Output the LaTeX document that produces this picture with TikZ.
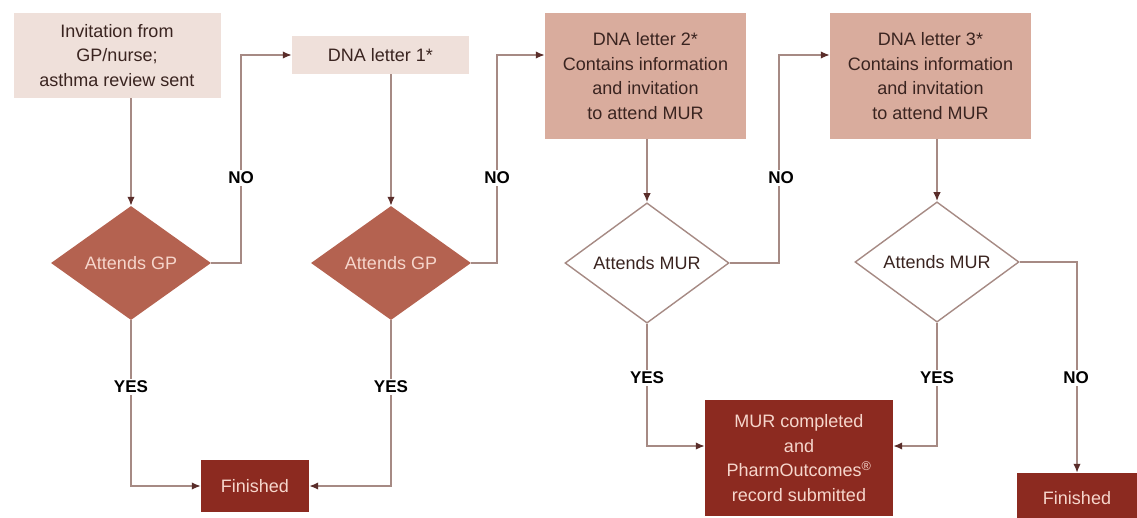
\documentclass[tikz,border=0pt]{standalone}
\usepackage{fontspec}
\setmainfont{Liberation Sans}
\usetikzlibrary{arrows.meta,shapes.geometric}
\definecolor{PaleRose}{RGB}{239,224,218}
\definecolor{MidRose}{RGB}{217,172,157}
\definecolor{Terracotta}{RGB}{180,98,80}
\definecolor{DeepRed}{RGB}{140,42,32}
\definecolor{LinkGrey}{RGB}{166,138,132}
\definecolor{TipBrown}{RGB}{90,45,42}
\definecolor{InkBrown}{RGB}{58,36,32}
\definecolor{PaleText}{RGB}{246,214,204}

\begin{document}
\begin{tikzpicture}[x=1pt,y=-1pt,
  font=\fontsize{18}{24.5}\selectfont,
  box/.style={rectangle,align=center,inner sep=0pt,text=InkBrown},
  gpcheck/.style={diamond,fill=Terracotta,text=PaleText,inner sep=0pt,minimum width=160pt,minimum height=114pt},
  murcheck/.style={diamond,draw=LinkGrey,line width=1.4pt,fill=white,text=InkBrown,inner sep=0pt,minimum width=164pt,minimum height=115pt},
  endbox/.style={rectangle,fill=DeepRed,text=PaleText,align=center,inner sep=0pt},
  flow/.style={draw=LinkGrey,line width=1.6pt,-{Latex[length=9pt,width=7.5pt,color=TipBrown]}},
  tag/.style={fill=white,font=\fontsize{17}{20}\selectfont\bfseries,inner sep=2pt}]
  \useasboundingbox (0,0) rectangle (1137,517);
  \node[box,fill=PaleRose,minimum width=207pt,minimum height=85pt] (invite) at (117,55.5)
    {Invitation from\\GP/nurse;\\asthma review sent};
  \node[box,fill=PaleRose,minimum width=177pt,minimum height=38pt] (dna1) at (380.5,55) {DNA letter 1*};
  \node[box,fill=MidRose,minimum width=201pt,minimum height=126pt] (dna2) at (645.5,76)
    {DNA letter 2*\\Contains information\\and invitation\\to attend MUR};
  \node[box,fill=MidRose,minimum width=201pt,minimum height=126pt] (dna3) at (930.5,76)
    {DNA letter 3*\\Contains information\\and invitation\\to attend MUR};
  \node[gpcheck] (gp1) at (131,263) {Attends GP};
  \node[gpcheck] (gp2) at (391,263) {Attends GP};
  \node[murcheck] (mur1) at (647,263) {Attends MUR};
  \node[murcheck] (mur2) at (937,262) {Attends MUR};
  \node[endbox,minimum width=108pt,minimum height=52pt] (fin1) at (255,486) {Finished};
  \node[endbox,minimum width=188pt,minimum height=116pt] (done) at (799,458)
    {MUR completed\\and\\PharmOutcomes\textsuperscript{\textregistered}\\record submitted};
  \node[endbox,minimum width=120pt,minimum height=50pt] (fin2) at (1077,498) {Finished};

  \draw[flow] (gp1.north |- invite.south) -- (gp1.north);
  \draw[flow] (gp2.north |- dna1.south) -- (gp2.north);
  \draw[flow] (mur1.north |- dna2.south) -- (mur1.north);
  \draw[flow] (mur2.north |- dna3.south) -- (mur2.north);
  \draw[flow] (gp1.east) -- ++(30,0) |- (dna1.west);
  \draw[flow] (gp2.east) -- ++(26,0) |- (dna2.west |- dna1.east);
  \draw[flow] (mur1.east) -- ++(49,0) |- (dna3.west |- dna1.east);
  \draw[flow] (gp1.south) |- (fin1.west);
  \draw[flow] (gp2.south) |- (fin1.east);
  \draw[flow] (mur1.south) |- ([yshift=12pt]done.west);
  \draw[flow] (mur2.south) |- ([yshift=12pt]done.east);
  \draw[flow] (mur2.east) -| (fin2.north);

  \node[tag] (no1) at (241,178) {NO};
  \node[tag] (no2) at (497,178) {NO};
  \node[tag] (no3) at (781,178) {NO};
  \node[tag] (no4) at (1076,378) {NO};
  \node[tag] (yes1) at (131,387) {YES};
  \node[tag] (yes2) at (391,387) {YES};
  \node[tag] (yes3) at (647,378) {YES};
  \node[tag] (yes4) at (937,378) {YES};
\end{tikzpicture}
\end{document}
